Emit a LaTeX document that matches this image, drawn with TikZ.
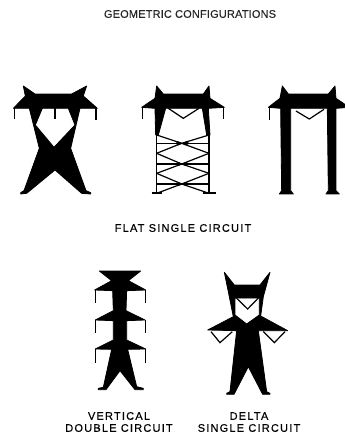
\documentclass[tikz,border=0pt]{standalone}
\usepackage{fontspec}
\setmainfont{Liberation Sans}
\newfontfamily\capfont[LetterSpace=1.5,FakeBold=0.15]{Liberation Sans}
\newfontfamily\widefont[LetterSpace=11,FakeBold=0.35]{Liberation Sans}
\tikzset{
  solid tower/.style={fill=black,draw=black,line width=0.8pt,even odd rule,line join=round},
  wire/.style={draw=black,line width=1.6pt,line join=miter},
  thin wire/.style={draw=black,line width=1.2pt},
  foot/.style={draw=black,line width=2pt},
  title/.style={inner sep=0pt,text=black!85,font=\fontsize{11}{12}\selectfont\capfont},
  caption/.style={inner sep=0pt,text=black,font=\fontsize{11}{12}\selectfont\widefont}
}
\begin{document}
\begin{tikzpicture}[x=1pt,y=-1pt]
\useasboundingbox (0,0) rectangle (345,437);
\fill[white] (0,0) rectangle (345,437);

% Tower 1
\begin{scope}[shift={(0,70)},x=0.3333pt,y=-0.3333pt]
\path[solid tower] (70,48)--(105,72)--(215,72)--(260,48)--(250,78)--(292,115)--(240,115)--(212,235)--(258,362)--(272,368)--(272,372)--(245,370)--(165,300)--(80,370)--(62,372)--(62,368)--(72,362)--(118,235)--(88,115)--(40,115)--(76,78)--cycle
 (127,115)--(205,115)--(225,165)--(162,232)--(106,165)--cycle;
\draw[wire] (43,113)--(43,148);
\draw[wire] (165,113)--(165,148);
\draw[wire] (288,113)--(288,150);
\end{scope}

% Tower 2
\begin{scope}[shift={(125,70)},x=0.3333pt,y=-0.3333pt]
\path[solid tower] (95,48)--(115,72)--(235,72)--(252,48)--(255,85)--(298,112)--(250,115)--(255,195)--(245,195)--(232,115)--(122,115)--(100,195)--(92,195)--(90,115)--(50,112)--(90,85)--cycle;
\draw[wire] (53,112)--(53,148);
\draw[wire] (295,112)--(295,146);
\draw[thin wire] (130,115)--(175,145)--(222,115);
\draw[wire] (95,195)--(95,370);
\draw[wire] (252,195)--(252,370);
\draw[foot] (80,370)--(110,370);
\draw[foot] (235,370)--(272,370);
\draw[thin wire] (95,195)--(170,220)--(252,195);
\draw[thin wire] (95,250)--(170,220)--(252,250);
\draw[thin wire] (95,220)--(252,220);
\draw[thin wire] (95,250)--(170,282)--(252,250);
\draw[thin wire] (95,310)--(170,282)--(252,310);
\draw[thin wire] (95,282)--(252,282);
\draw[thin wire] (95,310)--(170,342)--(252,310);
\draw[thin wire] (95,370)--(170,342)--(252,370);
\draw[thin wire] (95,342)--(252,342);
\foreach \yy in {220,282,342}{
  \fill (150,\yy)--(160,\yy-6)--(172,\yy)--(160,\yy+6)--cycle;
  \fill (172,\yy)--(184,\yy-6)--(194,\yy)--(184,\yy+6)--cycle;
}
\end{scope}

% Tower 3
\begin{scope}[shift={(250,70)},x=0.3333pt,y=-0.3333pt]
\path[solid tower] (97,48)--(115,72)--(235,72)--(255,48)--(258,85)--(298,112)--(258,115)--(258,362)--(268,372)--(228,372)--(235,362)--(232,115)--(122,115)--(122,362)--(130,372)--(88,372)--(95,362)--(92,115)--(55,112)--(90,85)--cycle;
\draw[wire] (58,112)--(58,150);
\draw[thin wire] (138,123)--(178,147)--(222,118);
\end{scope}

% Tower 4
\begin{scope}[shift={(80,250)},x=0.3333pt,y=-0.3333pt]
\path[solid tower] (58,63)--(182,63)--(145,92)--(197,120)--(140,122)--(138,182)--(195,210)--(140,212)--(140,270)--(197,297)--(143,298)--(170,410)--(190,415)--(190,419)--(165,419)--(120,362)--(78,419)--(55,419)--(55,415)--(70,412)--(95,298)--(46,297)--(100,270)--(100,212)--(46,210)--(100,182)--(98,122)--(44,120)--(95,92)--cycle;
\foreach \yy/\ee in {120/160,210/250,297/338}{
  \draw[wire] (47,\yy)--(47,\ee);
  \draw[wire] (197,\yy)--(197,\ee);
}
\end{scope}

% Tower 5
\begin{scope}[shift={(195,260)},x=0.3333pt,y=-0.3333pt]
\path[solid tower] (88,37)--(118,75)--(195,75)--(225,37)--(205,110)--(197,168)--(278,212)--(190,212)--(215,395)--(225,400)--(225,403)--(203,403)--(160,320)--(117,403)--(95,403)--(95,400)--(105,395)--(125,212)--(38,210)--(115,170)--(103,110)--cycle
 (120,114)--(193,114)--(193,165)--(155,192)--(120,165)--cycle;
\draw[thin wire] (122,112)--(158,147)--(192,112);
\draw[thin wire] (48,215)--(75,248)--(112,215);
\draw[thin wire] (205,215)--(238,248)--(270,215);
\end{scope}

% Labels
\node[title] (geo) at (190,14) {GEOMETRIC CONFIGURATIONS};
\node[caption] (flat) at (183,228) {FLAT SINGLE CIRCUIT};
\node[caption] (vert) at (119,416) {VERTICAL};
\node[caption] (doub) at (119,428) {DOUBLE CIRCUIT};
\node[caption] (delt) at (249,416) {DELTA};
\node[caption] (sing) at (249,428) {SINGLE CIRCUIT};
\end{tikzpicture}
\end{document}
